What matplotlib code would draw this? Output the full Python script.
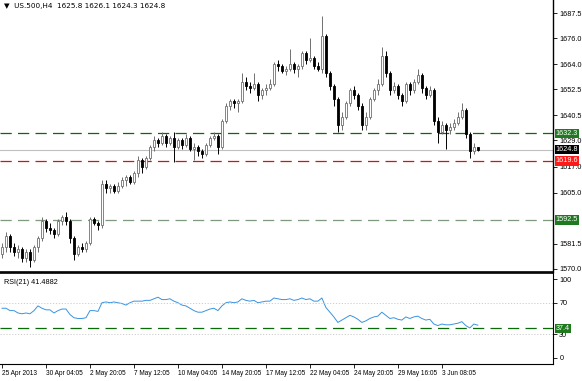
import matplotlib
matplotlib.use("Agg")
import matplotlib.pyplot as plt
import matplotlib.transforms as mtransforms

plt.rcParams['font.family'] = ['Liberation Sans', 'DejaVu Sans']

# ---- data ----
opens = [1577, 1580, 1585, 1580, 1578, 1579, 1575, 1578, 1574, 1580,
         1584, 1592, 1589, 1588, 1586, 1592, 1594, 1592, 1584, 1577,
         1580, 1579, 1582, 1593, 1591, 1590, 1609, 1607, 1608, 1606,
         1608, 1611, 1612, 1610, 1614, 1620, 1617, 1621, 1626, 1629,
         1628, 1631, 1628, 1630, 1626, 1629, 1627, 1630, 1625, 1626,
         1624, 1623, 1627, 1630, 1631, 1626, 1638, 1645, 1647, 1646,
         1647, 1656, 1654, 1653, 1655, 1650, 1652, 1653, 1655, 1664,
         1663, 1661, 1662, 1664, 1662, 1663, 1669, 1666, 1667, 1663,
         1662, 1677, 1660, 1654, 1648, 1636, 1640, 1646, 1652, 1650,
         1645, 1636, 1640, 1648, 1652, 1655, 1668, 1660, 1652, 1654,
         1650, 1647, 1655, 1652, 1656, 1659, 1653, 1650, 1652, 1638,
         1633, 1636, 1634, 1635, 1637, 1640, 1643, 1632, 1624, 1625.8]
highs = [1582, 1587, 1586, 1582, 1581, 1580, 1579, 1579, 1581, 1585,
         1594, 1593, 1591, 1589, 1593, 1595, 1596, 1593, 1585, 1581,
         1582, 1583, 1594, 1594, 1592, 1611, 1611, 1609, 1609, 1610,
         1612, 1613, 1613, 1615, 1622, 1621, 1622, 1627, 1631, 1630,
         1633, 1632, 1631, 1633, 1630, 1630, 1632, 1631, 1628, 1627,
         1625, 1628, 1631, 1633, 1632, 1639, 1646, 1648, 1648, 1648,
         1660, 1658, 1656, 1660, 1656, 1653, 1655, 1657, 1665, 1666,
         1664, 1663, 1671, 1665, 1664, 1670, 1670, 1676, 1668, 1665,
         1686, 1678, 1661, 1655, 1649, 1642, 1647, 1653, 1654, 1651,
         1646, 1642, 1649, 1653, 1657, 1672, 1670, 1661, 1656, 1655,
         1651, 1656, 1656, 1657, 1662, 1660, 1654, 1654, 1653, 1640,
         1638, 1637, 1637, 1639, 1642, 1646, 1644, 1633, 1628, 1626.1]
lows = [1575, 1578, 1578, 1576, 1575, 1573, 1573, 1571, 1573, 1578,
        1583, 1587, 1586, 1584, 1585, 1590, 1590, 1582, 1574, 1576,
        1578, 1578, 1581, 1590, 1588, 1589, 1605, 1605, 1605, 1605,
        1607, 1608, 1609, 1609, 1612, 1614, 1616, 1620, 1624, 1626,
        1627, 1626, 1627, 1619, 1625, 1625, 1626, 1624, 1620, 1622,
        1621, 1622, 1626, 1629, 1623, 1625, 1637, 1643, 1644, 1642,
        1646, 1652, 1651, 1652, 1647, 1648, 1650, 1652, 1654, 1661,
        1660, 1659, 1661, 1660, 1658, 1662, 1664, 1665, 1662, 1661,
        1660, 1658, 1652, 1645, 1633, 1634, 1639, 1645, 1648, 1643,
        1634, 1634, 1639, 1647, 1650, 1654, 1658, 1650, 1651, 1648,
        1645, 1646, 1650, 1651, 1655, 1651, 1648, 1649, 1636, 1628,
        1632, 1625, 1632, 1634, 1636, 1639, 1630, 1621, 1623, 1624.3]
closes = [1580, 1585, 1580, 1578, 1579, 1575, 1578, 1574, 1580, 1584,
          1592, 1589, 1588, 1586, 1592, 1594, 1592, 1584, 1577, 1580,
          1579, 1582, 1593, 1591, 1590, 1609, 1607, 1608, 1606, 1608,
          1611, 1612, 1610, 1614, 1620, 1617, 1621, 1626, 1629, 1628,
          1631, 1628, 1630, 1626, 1629, 1627, 1630, 1625, 1626, 1624,
          1623, 1627, 1630, 1631, 1626, 1638, 1645, 1647, 1646, 1647,
          1656, 1654, 1653, 1655, 1650, 1652, 1653, 1655, 1664, 1663,
          1661, 1662, 1664, 1662, 1663, 1669, 1666, 1667, 1663, 1662,
          1677, 1660, 1654, 1648, 1636, 1640, 1646, 1652, 1650, 1645,
          1636, 1640, 1648, 1652, 1655, 1668, 1660, 1652, 1654, 1650,
          1647, 1655, 1652, 1656, 1659, 1653, 1650, 1652, 1638, 1633,
          1636, 1634, 1635, 1637, 1640, 1643, 1632, 1624, 1626, 1624.8]
rsi = [63, 63, 60, 60, 57, 56, 57, 56, 60, 66,
       63, 61, 61, 57, 60, 62, 62, 55, 51, 50,
       50, 51, 60, 60, 59, 70, 71, 70, 71, 70,
       69, 67, 70, 72, 72, 72, 73, 73, 75, 77,
       74, 74, 75, 72, 70, 67, 66, 63, 60, 58,
       58, 60, 62, 63, 60, 66, 70, 71, 70, 71,
       75, 73, 72, 73, 70, 71, 72, 72, 76, 75,
       74, 74, 75, 73, 74, 76, 74, 75, 72, 72,
       76, 64, 58, 52, 45, 48, 51, 54, 52, 49,
       45, 47, 50, 52, 53, 58, 54, 50, 51, 49,
       48, 52, 50, 52, 53, 50, 48, 49, 43, 41,
       43, 42, 42, 43, 44, 46, 41, 38, 43, 41.4882]

price_ticks = [1687.5, 1676.0, 1664.0, 1652.5, 1640.5, 1629.0, 1617.0, 1605.0, 1581.5, 1570.0]
rsi_ticks = [100, 70, 30, 0]
date_pos = [0, 11, 22, 33, 44, 55, 66, 77, 88, 99, 110]
date_labels = ["25 Apr 2013", "30 Apr 04:05", "2 May 20:05", "7 May 12:05", "10 May 04:05",
               "14 May 20:05", "17 May 12:05", "22 May 04:05", "24 May 20:05",
               "29 May 16:05", "3 Jun 08:05"]
levels = [(1632.3, '#0a6a0a', '#1f7a1f'), (1619.6, '#d81010', '#ff1a1a'),
          (1592.5, '#7f9a7f', '#1f7a1f')]
last_price = 1624.8
rsi_level = 37.4

FS = 5.2
fig = plt.figure(figsize=(5.82, 3.81), dpi=100)
ax = fig.add_axes([0.0, 1 - 272 / 381, 553 / 582, 272 / 381])
ax2 = fig.add_axes([0.0, 1 - 364 / 381, 553 / 582, 91 / 381], sharex=ax)

# candles
for i in range(len(closes)):
    o, h, l, c = opens[i], highs[i], lows[i], closes[i]
    bull = c >= o
    col = '#707070' if bull else 'black'
    ax.vlines(i, l, h, color=col, linewidth=0.7, zorder=2)
    ax.bar(i, max(abs(c - o), 0.25), bottom=min(o, c), width=0.42,
           facecolor='white' if bull else 'black', edgecolor=col,
           linewidth=0.6, zorder=3)

# horizontal levels
trans = mtransforms.blended_transform_factory(ax.transAxes, ax.transData)
for val, lc, bc in levels:
    ax.axhline(val, color=lc, linestyle=(0, (9, 5)), linewidth=0.9, zorder=1)
    ax.text(1.005, val, f"{val:.1f}", transform=trans, fontsize=FS, color='white',
            va='center', ha='left', zorder=5,
            bbox=dict(boxstyle='square,pad=0.15', facecolor=bc, edgecolor='none'))
ax.axhline(last_price, color='#c0c0c0', linewidth=0.8, zorder=1)
ax.text(1.005, last_price, f"{last_price:.1f}", transform=trans, fontsize=FS, color='white',
        va='center', ha='left', zorder=5,
        bbox=dict(boxstyle='square,pad=0.15', facecolor='black', edgecolor='none'))

ax.set_xlim(-0.5, 137.8)
ax.set_ylim(1568.6, 1693.5)
ax.yaxis.tick_right()
ax.set_yticks(price_ticks)
ax.set_yticklabels([f"{v:.1f}" for v in price_ticks])
ax.tick_params(axis='y', labelsize=FS, length=3, width=0.6, pad=1.5, colors='black')
ax.tick_params(axis='x', bottom=False, labelbottom=False)
for s in ['top', 'left']:
    ax.spines[s].set_visible(False)
ax.spines['right'].set_linewidth(1.0)
ax.spines['bottom'].set_linewidth(1.2)
ax.text(0.008, 0.978, "\u25bc  US.500,H4  1625.8 1626.1 1624.3 1624.8", transform=ax.transAxes,
        fontsize=FS, va='center', ha='left', family=['DejaVu Sans'])

# RSI panel
x_idx = list(range(len(rsi)))
ax2.plot(x_idx, rsi, color='#3a93e0', linewidth=0.7)
for v in (70, 30):
    ax2.axhline(v, color='#c8c8c8', linestyle=(0, (1.5, 2)), linewidth=0.6)
ax2.axhline(rsi_level, color='#0a6a0a', linestyle=(0, (9, 5)), linewidth=0.9)
trans2 = mtransforms.blended_transform_factory(ax2.transAxes, ax2.transData)
ax2.text(1.005, rsi_level, f"{rsi_level:.1f}", transform=trans2, fontsize=FS, color='white',
         va='center', ha='left',
         bbox=dict(boxstyle='square,pad=0.15', facecolor='#1f7a1f', edgecolor='none'))
ax2.set_ylim(-7.7, 107.7)
ax2.yaxis.tick_right()
ax2.set_yticks(rsi_ticks)
ax2.set_yticklabels([str(v) for v in rsi_ticks])
ax2.tick_params(axis='y', labelsize=FS, length=3, width=0.6, pad=1.5)
ax2.spines['left'].set_visible(False)
ax2.spines['top'].set_linewidth(1.2)
ax2.text(0.008, 0.9, "RSI(21) 41.4882", transform=ax2.transAxes, fontsize=FS,
         va='center', ha='left')
ax2.set_xticks(date_pos)
ax2.set_xticklabels(date_labels, ha='left')
ax2.tick_params(axis='x', labelsize=4.7, length=3, width=0.6, pad=1)

fig.savefig("out.png", dpi=100)
